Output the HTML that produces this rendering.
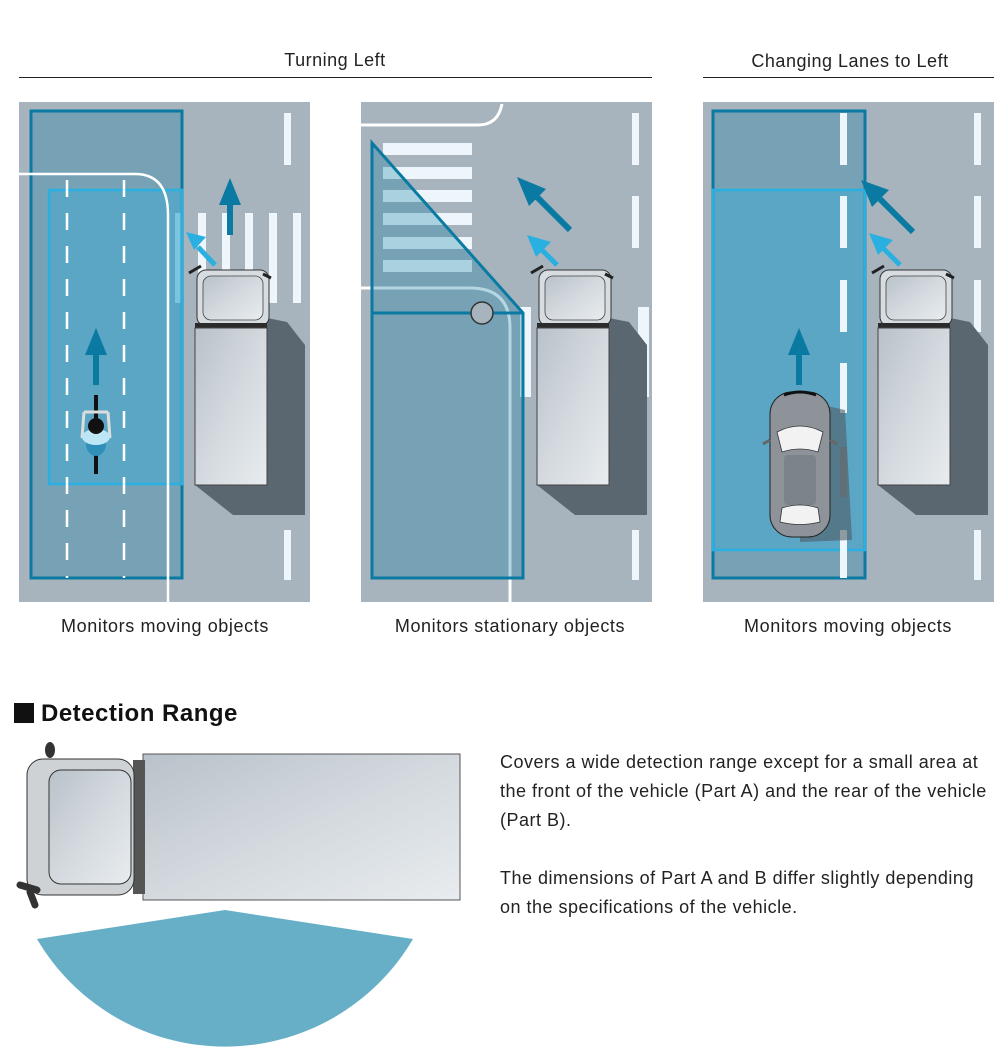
<!DOCTYPE html>
<html><head><meta charset="utf-8"><style>
html,body{margin:0;padding:0;background:#fff;}
svg{display:block;font-family:"Liberation Sans",Arial,sans-serif;}
</style></head><body>
<svg width="1004" height="1047" viewBox="0 0 1004 1047" xmlns="http://www.w3.org/2000/svg">
<defs>
<linearGradient id="tg" x1="0" y1="0" x2="1" y2="1"><stop offset="0" stop-color="#b9c2ca"/><stop offset="0.5" stop-color="#d3d9de"/><stop offset="1" stop-color="#e8ecef"/></linearGradient>
<g id="truck">
<polygon points="72,48 92,52 110,75 110,245 38,245 0,215 72,215" fill="#5a6670"/>
<rect x="2" y="0" width="72" height="56" rx="9" fill="#d7dce0" stroke="#333" stroke-width="1"/>
<rect x="8" y="6" width="60" height="44" rx="8" fill="url(#tg)" stroke="#444" stroke-width="0.8"/>
<path d="M-6,3 L6,-4 M68,4 L76,8" stroke="#222" stroke-width="3"/>
<rect x="0" y="53" width="72" height="5" fill="#2b2b2b"/>
<rect x="0" y="58" width="72" height="157" fill="url(#tg)" stroke="#444" stroke-width="1"/>
</g>
</defs>
<g font-size="18" letter-spacing="0.5" fill="#222">
<text x="335" y="66" text-anchor="middle">Turning Left</text>
<text x="850" y="67" text-anchor="middle">Changing Lanes to Left</text>
</g>
<line x1="19" y1="77.5" x2="652" y2="77.5" stroke="#222" stroke-width="1"/>
<line x1="703" y1="77.5" x2="994" y2="77.5" stroke="#222" stroke-width="1"/>

<!-- PANEL 1 -->
<rect x="19" y="102" width="291" height="500" fill="#a7b4bd"/>
<g fill="#eef6fb">
<rect x="284" y="113" width="7" height="52"/><rect x="284" y="530" width="7" height="50"/>
<rect x="175" y="213" width="8" height="90"/><rect x="198" y="213" width="8" height="90"/><rect x="222" y="213" width="8" height="90"/><rect x="245" y="213" width="8" height="90"/><rect x="269" y="213" width="8" height="90"/><rect x="293" y="213" width="8" height="90"/>
</g>
<g fill="#8a959d"><rect x="284" y="363" width="7" height="50"/><rect x="284" y="447" width="7" height="50"/></g>
<rect x="31" y="111" width="151" height="467" fill="#0b7aa3" fill-opacity="0.3" stroke="#0b7aa3" stroke-width="3"/>
<rect x="49" y="190" width="133" height="294" fill="#29b0e0" fill-opacity="0.35" stroke="#29b0e0" stroke-width="2.5"/>
<path d="M19,174 L135,174 Q168,174 168,215 L168,602" fill="none" stroke="#fff" stroke-width="2.5"/>
<g stroke="#fff" stroke-width="2.5" stroke-dasharray="17,16">
<line x1="67" y1="180" x2="67" y2="578"/><line x1="124" y1="180" x2="124" y2="578"/>
</g>
<use href="#truck" x="195" y="270"/>
<line x1="230" y1="235" x2="230" y2="200" stroke="#0b7aa3" stroke-width="6"/>
<polygon points="219,205 241,205 230,178" fill="#0b7aa3"/>
<line x1="215" y1="265" x2="198" y2="247" stroke="#29b0e0" stroke-width="5"/>
<polygon points="186,232 206,237 194,250" fill="#29b0e0"/>
<line x1="96" y1="385" x2="96" y2="350" stroke="#0b7aa3" stroke-width="6"/>
<polygon points="85,355 107,355 96,328" fill="#0b7aa3"/>
<line x1="96" y1="395" x2="96" y2="474" stroke="#111" stroke-width="4"/>
<ellipse cx="96" cy="444" rx="10" ry="12" fill="#2f8fb8"/>
<path d="M84,412 L108,412 M84,412 L82,438 M108,412 L110,438" stroke="#ddd" stroke-width="3" fill="none"/>
<ellipse cx="96" cy="437" rx="14" ry="8" fill="#bde6f5"/>
<circle cx="96" cy="426" r="8" fill="#111"/>

<!-- PANEL 2 -->
<rect x="361" y="102" width="291" height="500" fill="#a7b4bd"/>
<path d="M361,125 L478,125 Q498,125 502,104" fill="none" stroke="#fff" stroke-width="3"/>
<g fill="#eef6fb">
<rect x="383" y="143" width="89" height="12"/><rect x="383" y="167" width="89" height="12"/><rect x="383" y="190" width="89" height="12"/><rect x="383" y="213" width="89" height="12"/><rect x="383" y="237" width="89" height="12"/><rect x="383" y="260" width="89" height="12"/>
<rect x="632" y="113" width="7" height="52"/><rect x="632" y="196" width="7" height="52"/><rect x="632" y="530" width="7" height="50"/>
<rect x="520" y="307" width="11" height="90"/><rect x="638" y="307" width="11" height="90"/>
</g>
<g fill="#8a959d"><rect x="632" y="447" width="7" height="50"/></g>
<path d="M361,288 L470,288 Q510,288 510,328 L510,602" fill="none" stroke="#fff" stroke-width="3"/>
<polygon points="372,143 523,313 523,578 372,578" fill="#0b7aa3" fill-opacity="0.3" stroke="#0b7aa3" stroke-width="3"/>
<line x1="372" y1="313" x2="523" y2="313" stroke="#0b7aa3" stroke-width="3"/>
<circle cx="482" cy="313" r="11" fill="#a7b4bd" stroke="#333" stroke-width="1.5"/>
<use href="#truck" x="537" y="270"/>
<line x1="570" y1="230" x2="535" y2="195" stroke="#0b7aa3" stroke-width="6"/>
<polygon points="517,177 546,189 529,206" fill="#0b7aa3"/>
<line x1="557" y1="265" x2="540" y2="248" stroke="#29b0e0" stroke-width="5"/>
<polygon points="527,235 551,242 536,257" fill="#29b0e0"/>

<!-- PANEL 3 -->
<rect x="703" y="102" width="291" height="500" fill="#a7b4bd"/>
<g fill="#eef6fb">
<rect x="974" y="113" width="7" height="52"/><rect x="974" y="196" width="7" height="52"/><rect x="974" y="280" width="7" height="52"/><rect x="974" y="530" width="7" height="50"/>
</g>
<g fill="#8a959d"><rect x="974" y="363" width="7" height="50"/><rect x="974" y="447" width="7" height="50"/></g>
<rect x="713" y="111" width="152" height="467" fill="#0b7aa3" fill-opacity="0.3" stroke="#0b7aa3" stroke-width="3"/>
<rect x="713" y="190" width="152" height="360" fill="#29b0e0" fill-opacity="0.35" stroke="#29b0e0" stroke-width="2.5"/>
<g fill="#eef6fb"><rect x="840" y="113" width="7" height="52"/><rect x="840" y="196" width="7" height="52"/><rect x="840" y="280" width="7" height="52"/><rect x="840" y="363" width="7" height="50"/><rect x="840" y="530" width="7" height="48"/></g>
<g fill="#7b8a93"><rect x="840" y="447" width="7" height="50"/></g>
<use href="#truck" x="878" y="270"/>
<line x1="913" y1="232" x2="880" y2="199" stroke="#0b7aa3" stroke-width="6"/>
<polygon points="861,180 889,190 872,207" fill="#0b7aa3"/>
<line x1="900" y1="265" x2="882" y2="247" stroke="#29b0e0" stroke-width="5"/>
<polygon points="869,233 893,240 878,255" fill="#29b0e0"/>
<line x1="799" y1="385" x2="799" y2="350" stroke="#0b7aa3" stroke-width="6"/>
<polygon points="788,355 810,355 799,328" fill="#0b7aa3"/>
<path d="M800,400 L845,410 L852,540 L800,542 Z" fill="#4f5b64" opacity="0.6"/>
<rect x="770" y="392" width="60" height="145" rx="22" fill="#8d9399" stroke="#222" stroke-width="1"/>
<path d="M777,432 Q800,420 823,432 L818,452 Q800,446 782,452 Z" fill="#f2f2f2" stroke="#333" stroke-width="0.8"/>
<rect x="784" y="455" width="32" height="50" rx="4" fill="#7c8389"/>
<path d="M782,508 Q800,502 818,508 L820,522 Q800,527 780,522 Z" fill="#f2f2f2" stroke="#333" stroke-width="0.8"/>
<path d="M784,395 Q800,389 816,395" stroke="#111" stroke-width="3" fill="none"/>
<path d="M770,440 L763,444 M830,440 L837,444" stroke="#666" stroke-width="3"/>

<g font-size="18" letter-spacing="0.6" fill="#222" text-anchor="middle">
<text x="165" y="632">Monitors moving objects</text>
<text x="510" y="632">Monitors stationary objects</text>
<text x="848" y="632">Monitors moving objects</text>
</g>

<rect x="14" y="703" width="20" height="20" fill="#111"/>
<text x="41" y="721" font-size="24" letter-spacing="0.5" font-weight="bold" fill="#111">Detection Range</text>
<path d="M37,939 L225,910 L413,939 A218,218 0 0 1 37,939 Z" fill="#67afc7"/>
<rect x="143" y="754" width="317" height="146" fill="url(#tg)" stroke="#555" stroke-width="1"/>
<rect x="133" y="760" width="12" height="134" fill="#555"/>
<rect x="27" y="759" width="107" height="136" rx="16" fill="#cfd2d5" stroke="#333" stroke-width="1"/>
<rect x="49" y="770" width="82" height="114" rx="12" fill="url(#tg)" stroke="#333" stroke-width="1"/>
<ellipse cx="50" cy="750" rx="5" ry="8" fill="#333"/>
<path d="M37,890 L20,885 M30,892 L35,905" stroke="#333" stroke-width="7" stroke-linecap="round"/>
<g font-size="18" letter-spacing="0.5" fill="#222">
<text x="500" y="768">Covers a wide detection range except for a small area at</text>
<text x="500" y="797">the front of the vehicle (Part A) and the rear of the vehicle</text>
<text x="500" y="826">(Part B).</text>
<text x="500" y="884">The dimensions of Part A and B differ slightly depending</text>
<text x="500" y="913">on the specifications of the vehicle.</text>
</g>
</svg>
</body></html>
